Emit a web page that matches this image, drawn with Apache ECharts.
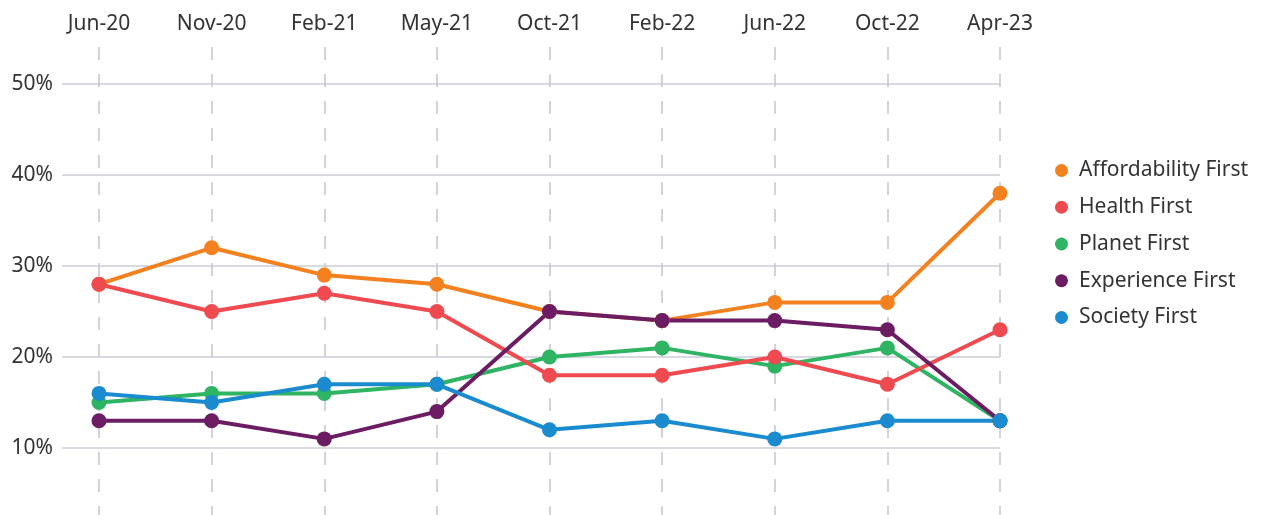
<!DOCTYPE html>
<html><head><meta charset="utf-8">
<script src="https://cdn.jsdelivr.net/npm/echarts@6/dist/echarts.min.js"></script>
<style>html,body{margin:0;padding:0;background:#fff}#c{width:1262px;height:515px}</style>
</head><body><div id="c"></div>
<script>
const categories = ['Jun-20','Nov-20','Feb-21','May-21','Oct-21','Feb-22','Jun-22','Oct-22','Apr-23'];
const affordability = [28,32,29,28,25,24,26,26,38];
const health = [28,25,27,25,18,18,20,17,23];
const planet = [15,16,16,17,20,21,19,21,13];
const experience = [13,13,11,14,25,24,24,23,13];
const society = [16,15,17,17,12,13,11,13,13];
const yTicks = [10,20,30,40,50];

const FONT = 'Noto Sans';
const chart = echarts.init(document.getElementById('c'));
function s(name, data, color){
  return {name, type:'line', data, xAxisIndex:0, yAxisIndex:0,
    symbol:'circle', symbolSize:15, lineStyle:{width:4,color}, itemStyle:{color},
    emphasis:{disabled:true}, animation:false};
}
chart.setOption({
  animation:false,
  textStyle:{fontFamily:FONT},
  grid:[
    {left:99, right:262, top:47, bottom:0},
    {left:62, right:262, top:84, bottom:67}
  ],
  xAxis:[
    {type:'category', gridIndex:0, data:categories, boundaryGap:false, position:'top',
     axisLine:{show:false}, axisTick:{show:false},
     axisLabel:{margin:12, fontSize:21, color:'#333', fontFamily:FONT},
     splitLine:{show:true, lineStyle:{color:'#c5c6d0', width:1.5, type:[13,14]}}},
    {type:'value', gridIndex:1, min:0, max:1, show:false}
  ],
  yAxis:[
    {type:'value', gridIndex:0, min:10-67/9.1, max:50+37/9.1, show:false, splitLine:{show:false}},
    {type:'value', gridIndex:1, min:yTicks[0], max:yTicks[yTicks.length-1], interval:10,
     axisLine:{show:false}, axisTick:{show:false},
     axisLabel:{margin:9, fontSize:21, color:'#333', fontFamily:FONT, formatter:'{value}%', padding:[10,0,0,0]},
     splitLine:{show:true, lineStyle:{color:'#cdcdd8', width:1.5}}}
  ],
  legend:{
    orient:'vertical', left:1050, top:155, icon:'circle', itemWidth:25, itemHeight:13, itemGap:15.75,
    data:['Affordability First','Health First','Planet First','Experience First','Society First'],
    textStyle:{fontSize:21, color:'#333', fontFamily:FONT, lineHeight:21, padding:[0,0,0,0]},
    selectedMode:false
  },
  series:[
    s('Affordability First', affordability, '#f48120'),
    s('Planet First', planet, '#2fb464'),
    s('Health First', health, '#ef4a4f'),
    s('Experience First', experience, '#6b1c62'),
    s('Society First', society, '#1b8bd0')
  ]
});
</script></body></html>
